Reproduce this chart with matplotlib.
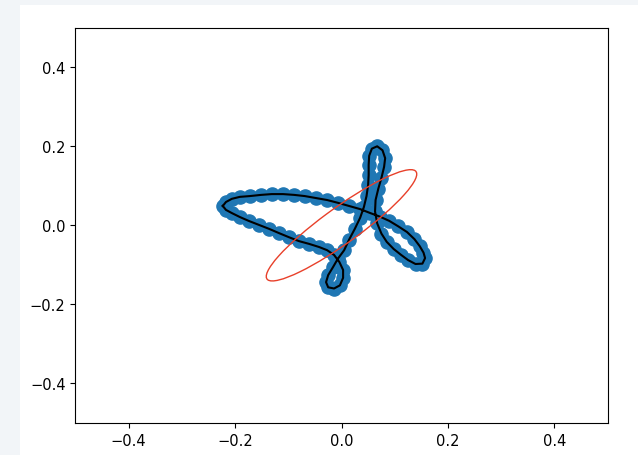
import matplotlib
matplotlib.use('Agg')
import matplotlib.pyplot as plt
from matplotlib.patches import Ellipse, Rectangle
import numpy as np

# sampled outline points (data coords), in order along the closed curve
x_pts = [-0.223, -0.217, -0.206, -0.191, -0.172, -0.151, -0.131, -0.110, -0.089, -0.069,
         -0.048, -0.027, -0.007, 0.014, 0.035, 0.054, 0.072, 0.090, 0.107, 0.123,
         0.137, 0.147, 0.154, 0.157, 0.152, 0.139, 0.125, 0.112, 0.098, 0.085,
         0.075, 0.067, 0.063, 0.064, 0.069, 0.075, 0.080, 0.082, 0.077, 0.067,
         0.057, 0.052, 0.051, 0.051, 0.050, 0.047, 0.042, 0.035, 0.025, 0.014,
         0.005, -0.007, -0.016, -0.025, -0.029, -0.025, -0.014, -0.003, 0.003, 0.003,
         -0.004, -0.014, -0.027, -0.042, -0.061, -0.080, -0.099, -0.117, -0.136, -0.155,
         -0.174, -0.191, -0.206, -0.217]
y_pts = [0.049, 0.059, 0.067, 0.072, 0.074, 0.077, 0.079, 0.079, 0.077, 0.074,
         0.069, 0.064, 0.057, 0.049, 0.041, 0.031, 0.022, 0.011, -0.003, -0.017,
         -0.035, -0.053, -0.069, -0.083, -0.097, -0.098, -0.088, -0.075, -0.060, -0.042,
         -0.021, 0.005, 0.035, 0.064, 0.092, 0.120, 0.148, 0.170, 0.190, 0.200,
         0.194, 0.176, 0.153, 0.127, 0.102, 0.074, 0.046, 0.019, -0.009, -0.037,
         -0.063, -0.085, -0.106, -0.126, -0.144, -0.157, -0.160, -0.152, -0.133, -0.113,
         -0.093, -0.075, -0.063, -0.055, -0.047, -0.040, -0.030, -0.020, -0.009, 0.001,
         0.011, 0.021, 0.031, 0.039]

# first harmonic ellipse
ell_center = (0.0, 0.0)
ell_width = 0.391
ell_height = 0.080
ell_angle = 44.9

fig = plt.figure(figsize=(6.38, 4.56), dpi=100, facecolor='#f2f5f8')
fig.patches.append(Rectangle((20 / 638, 0), 1, 450.5 / 456, transform=fig.transFigure,
                             facecolor='white', edgecolor='none', zorder=-10))
ax = fig.add_axes([75.3 / 638, (456 - 423.8) / 456, 532.4 / 638, 395 / 456])
ax.set_zorder(1)

ax.scatter(x_pts, y_pts, s=90, color='#1f77b4', zorder=1)
ax.plot(x_pts + x_pts[:1], y_pts + y_pts[:1], color='black', lw=1.5, zorder=2)
ax.add_patch(Ellipse(ell_center, ell_width, ell_height, angle=ell_angle,
                     fill=False, edgecolor='#e8402a', lw=1.0, zorder=3))

ax.set_xlim(-0.5, 0.5)
ax.set_ylim(-0.5, 0.5)
ax.set_xticks([-0.4, -0.2, 0.0, 0.2, 0.4])
ax.set_yticks([-0.4, -0.2, 0.0, 0.2, 0.4])
ax.tick_params(labelsize=10.5)

fig.savefig('out.png', dpi=100, facecolor=fig.get_facecolor())
